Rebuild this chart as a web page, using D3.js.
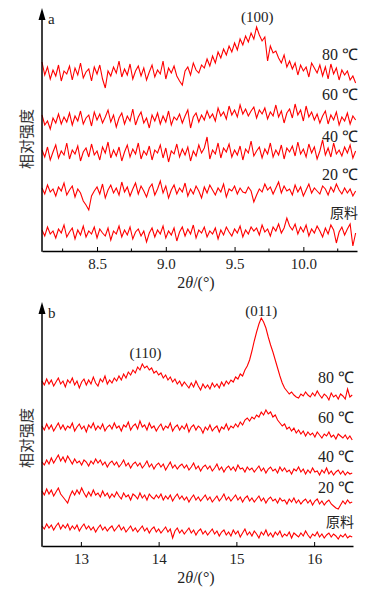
<!DOCTYPE html>
<html>
<head>
<meta charset="utf-8">
<script src="https://cdn.jsdelivr.net/npm/d3@7"></script>
<style>
  body { margin: 0; background: #fff; }
  svg text { font-family: "Liberation Serif", "Times New Roman", Times, serif; }
  svg text.cn { font-family: "Noto Sans CJK SC", sans-serif; }
</style>
</head>
<body>
<div id="chart"></div>
<script>
// ---- panel a: 2θ from 8.10, step 0.02 ----
const aStart = 8.10, aStep = 0.02;
const a80 = [189,176,184,172,181,175,186,170,180,177, 185,171,183,176,188,173,179,182,170,184,
  177,186,172,163,180,175,184,178,190,174, 182,176,187,172,180,185,175,183,171,179,
  186,174,181,177,190,172,183,178,185,175, 170,166,180,184,176,188,181,178,186,183,
  192,185,195,188,199,193,202,196,205,199, 208,201,212,206,215,209,218,212,224,216,
  210,214,190,205,198,200,193,188,196,184, 190,182,188,176,186,180,184,174,188,183,
  178,186,175,184,172,187,177,183,171,181, 176,180,171,175,168];
const a60 = [136,126,130,122,133,128,137,127,134,129, 138,126,135,130,140,127,133,136,125,139,
  131,137,128,134,141,129,136,124,133,138, 127,135,130,142,126,134,139,128,133,123,
  136,130,138,127,135,129,140,126,134,131, 137,128,135,141,123,134,138,129,136,131,
  140,133,137,130,143,135,139,132,145,136, 141,134,146,137,142,135,140,144,133,141,
  137,143,132,139,135,146,134,140,128,138, 142,133,147,136,141,130,145,134,139,131,
  137,128,135,140,127,136,131,139,126,134, 130,138,127,135,131];
const a40 = [101,94,104,91,99,106,93,100,96,108, 92,101,97,105,90,99,103,94,107,96,
  100,91,104,98,109,93,101,95,104,90, 99,106,94,102,97,108,92,100,96,105,
  91,101,98,106,93,103,89,100,97,107, 94,102,96,104,90,100,95,106,98,103,
  114,92,101,97,108,93,103,99,107,94, 101,96,105,91,102,98,110,95,100,104,
  93,102,97,108,94,101,96,106,92,103, 99,105,95,109,97,102,94,107,98,104,
  92,100,111,96,103,94,108,97,101,95, 104,98,106,93,100];
const a20 = [63,57,66,59,62,55,64,60,68,56, 61,65,54,62,58,50,46,41,55,60,
  64,57,67,53,61,66,58,63,56,69, 59,64,55,62,68,57,65,60,54,63,
  67,56,62,70,58,65,53,61,66,57, 63,59,68,55,62,57,65,60,53,64,
  58,66,61,56,63,59,67,54,62,60, 65,57,63,59,58,64,60,49,56,62,
  59,67,61,64,57,63,69,58,65,60, 62,56,66,59,64,55,61,67,58,63,
  60,57,65,62,56,64,59,67,61,57, 63,58,62,55,60];
const aRaw = [21,15,24,17,20,13,22,18,26,14, 19,23,12,21,16,25,14,20,17,24,
  13,22,18,15,23,11,20,17,25,14, 21,16,24,12,19,22,15,20,9,18,
  23,14,21,17,25,13,20,16,23,10, 19,24,15,22,17,26,13,21,18,24,
  14,20,17,23,12,21,16,24,19,15, 22,18,25,14,21,17,24,20,23,16,
  26,19,22,15,24,20,27,18,23,33, 25,21,27,17,24,19,26,15,22,18,
  25,20,14,23,17,26,21,8,19,24, 16,22,27,5,18];
const aSeries = [a80, a60, a40, a20, aRaw];
const aLabels = ["80 ℃", "60 ℃", "40 ℃", "20 ℃", "原料"];
const aLabelLevels = [191, 151, 109, 71, 33];
const aTicks = [8.5, 9.0, 9.5, 10.0];
const aMinor = [8.25, 8.75, 9.25, 9.75, 10.25];

// ---- panel b: 2θ from 12.50, step 0.03 ----
const bStart = 12.50, bStep = 0.03;
const b80 = [165,161,167,162,166,160,164,168,162,165, 159,166,163,168,161,165,158,164,167,161,
  166,162,169,163,160,167,164,170,162,166, 163,168,165,170,166,172,168,174,171,176,
  173,179,176,182,178,180,176,178,173,175, 171,173,168,171,166,169,164,167,162,165,
  160,164,161,158,163,159,165,160,156,162, 158,161,157,163,159,162,158,164,160,165,
  162,166,164,169,167,172,170,176,180,186, 195,205,214,222,228,224,218,209,201,194,
  186,178,170,163,158,155,152,154,151,149, 148,152,150,154,151,149,153,150,155,151,
  148,152,150,146,153,149,151,147,152,150, 147,157,149,151];
const b60 = [120,116,122,117,121,115,119,123,117,121, 116,120,118,123,115,119,122,117,120,114,
  121,118,123,116,120,117,122,115,119,121, 117,123,118,120,115,121,119,124,116,120,
  122,117,125,119,121,116,123,118,120,115, 119,122,116,120,118,123,115,119,121,116,
  120,117,122,114,119,121,116,120,118,113, 119,116,121,115,118,120,114,119,117,122,
  116,120,118,122,119,124,121,126,128,125, 129,127,131,129,134,131,136,132,134,129,
  131,126,123,120,122,117,119,115,118,113, 116,112,115,110,114,111,113,109,114,111,
  108,112,110,114,109,111,107,112,110,108, 111,107,110,106];
const b40 = [84,81,86,82,88,83,87,91,85,89, 84,90,86,82,87,83,85,81,86,84,
  80,85,82,87,83,86,81,84,79,83, 85,81,84,79,82,86,80,83,78,82,
  84,80,83,78,81,85,79,82,77,81, 83,79,82,76,80,84,78,81,77,80,
  82,78,81,76,79,83,77,80,75,79, 81,77,80,75,78,82,76,79,74,78,
  80,76,79,75,81,77,78,74,79,76, 78,74,77,80,75,78,73,77,79,75,
  77,73,79,75,78,74,76,72,77,75, 79,74,77,72,76,73,78,74,75,71,
  76,73,78,72,75,71,74,76,72,75, 71,74,72,73];
const b20 = [55,51,57,52,56,50,54,58,52,49, 46,43,50,55,51,56,52,58,53,49,
  54,50,56,51,53,49,55,50,53,48, 52,49,54,50,47,53,49,51,46,52,
  50,47,53,48,51,46,52,49,47,51, 48,52,46,50,47,51,45,49,52,47,
  50,46,49,44,48,51,46,49,45,48, 51,46,49,44,47,50,45,48,52,46,
  49,45,48,51,46,49,44,48,50,45, 48,44,47,50,45,48,43,47,49,45,
  47,43,48,45,46,42,47,44,48,43, 46,42,45,47,43,46,41,45,47,42,
  45,41,44,46,42,40,38,37,41,45, 42,46,43,44];
const bRaw = [20,17,22,18,21,16,20,23,17,21, 18,22,16,20,17,21,15,19,22,17,
  20,16,19,14,18,21,16,19,15,18, 20,15,18,21,16,19,14,17,20,15,
  18,14,17,20,15,18,13,17,19,14, 17,13,16,19,14,17,8,15,18,13,
  16,12,15,18,13,16,11,15,17,12, 15,11,14,17,12,15,10,14,16,11,
  14,10,16,12,15,9,13,17,11,14, 10,15,12,8,14,11,16,10,13,9,
  14,11,15,9,12,10,14,8,13,11, 9,13,10,15,11,8,12,10,14,9,
  12,8,11,13,9,12,10,7,11,9, 12,8,10,9];
const bSeries = [b80, b60, b40, b20, bRaw];
const bLabels = ["80 ℃", "60 ℃", "40 ℃", "20 ℃", "原料"];
const bLabelLevels = [163, 123, 84, 53, 19];
const bTicks = [13, 14, 15, 16];

const W = 378, H = 591;
const svg = d3.select("#chart").append("svg")
    .attr("width", W).attr("height", H);

function panel(opt) {
    const x = d3.scaleLinear().domain(opt.xDomain).range([42, opt.right]);
    const y = d3.scaleLinear().domain([0, 240]).range([opt.bottom, opt.bottom - 240]);
    const g = svg.append("g");

    // curves
    const line = d3.line()
        .x((d, i) => x(opt.start + i * opt.step))
        .y(d => y(d));
    opt.series.forEach(s => {
        g.append("path")
            .datum(s)
            .attr("fill", "none")
            .attr("stroke", "#ff0000")
            .attr("stroke-width", 1.1)
            .attr("d", line);
    });

    // x axis (ticks point inward)
    const ax = g.append("g")
        .attr("transform", `translate(0,${opt.bottom})`)
        .call(d3.axisBottom(x).tickValues(opt.ticks).tickFormat(opt.fmt)
            .tickSizeInner(-4).tickSizeOuter(0).tickPadding(7));
    ax.select(".domain").attr("stroke-width", 1.5);
    ax.selectAll("text").attr("font-size", 15).attr("fill", "#222");
    if (opt.minor) {
        ax.selectAll(".minor").data(opt.minor).enter().append("line")
            .attr("x1", d => x(d)).attr("x2", d => x(d))
            .attr("y1", 0).attr("y2", -2.5).attr("stroke", "#000");
    }

    // y axis with arrow
    g.append("line")
        .attr("x1", 42).attr("x2", 42)
        .attr("y1", opt.bottom + 0.75).attr("y2", opt.top + 8)
        .attr("stroke", "#000").attr("stroke-width", 1.5);
    g.append("path")
        .attr("d", `M42,${opt.top} L38.5,${opt.top + 12} L45.5,${opt.top + 12} Z`)
        .attr("fill", "#000");

    g.append("text").attr("x", 48).attr("y", opt.top + 16)
        .attr("font-size", 15).attr("fill", "#222").text(opt.letter);

    // curve labels
    opt.labels.forEach((t, i) => {
        g.append("text")
            .attr("class", t === "原料" ? "cn" : null)
            .attr("x", opt.right + 1).attr("y", y(opt.levels[i]))
            .attr("text-anchor", "end")
            .attr("font-size", t === "原料" ? 14 : 16)
            .attr("fill", "#222").text(t);
    });

    // peak labels
    opt.peaks.forEach(p => {
        g.append("text").attr("x", x(p.x)).attr("y", y(p.level))
            .attr("text-anchor", "middle").attr("font-size", 15)
            .attr("fill", "#222").text(p.text);
    });

    // y title
    g.append("text")
        .attr("class", "cn")
        .attr("transform", `translate(32,${opt.yMid}) rotate(-90)`)
        .attr("text-anchor", "middle")
        .attr("font-size", 15).attr("fill", "#333")
        .text("相对强度");

    // x title
    const xt = g.append("text").attr("x", 196).attr("y", opt.bottom + 37)
        .attr("text-anchor", "middle").attr("font-size", 16).attr("fill", "#222");
    xt.append("tspan").text("2");
    xt.append("tspan").attr("font-style", "italic").text("θ");
    xt.append("tspan").text("/(°)");
}

panel({
    xDomain: [8.10, 10.39], right: 357, bottom: 251, top: 8,
    start: aStart, step: aStep, series: aSeries,
    ticks: aTicks, minor: aMinor, fmt: d3.format(".1f"),
    labels: aLabels, levels: aLabelLevels, letter: "a", yMid: 139,
    peaks: [{ x: 9.665, level: 229, text: "(100)" }]
});

panel({
    xDomain: [12.5, 16.5], right: 353, bottom: 546, top: 302,
    start: bStart, step: bStep, series: bSeries,
    ticks: bTicks, minor: null, fmt: d3.format("d"),
    labels: bLabels, levels: bLabelLevels, letter: "b", yMid: 438,
    peaks: [{ x: 13.83, level: 188, text: "(110)" },
            { x: 15.32, level: 230, text: "(011)" }]
});
</script>
</body>
</html>
